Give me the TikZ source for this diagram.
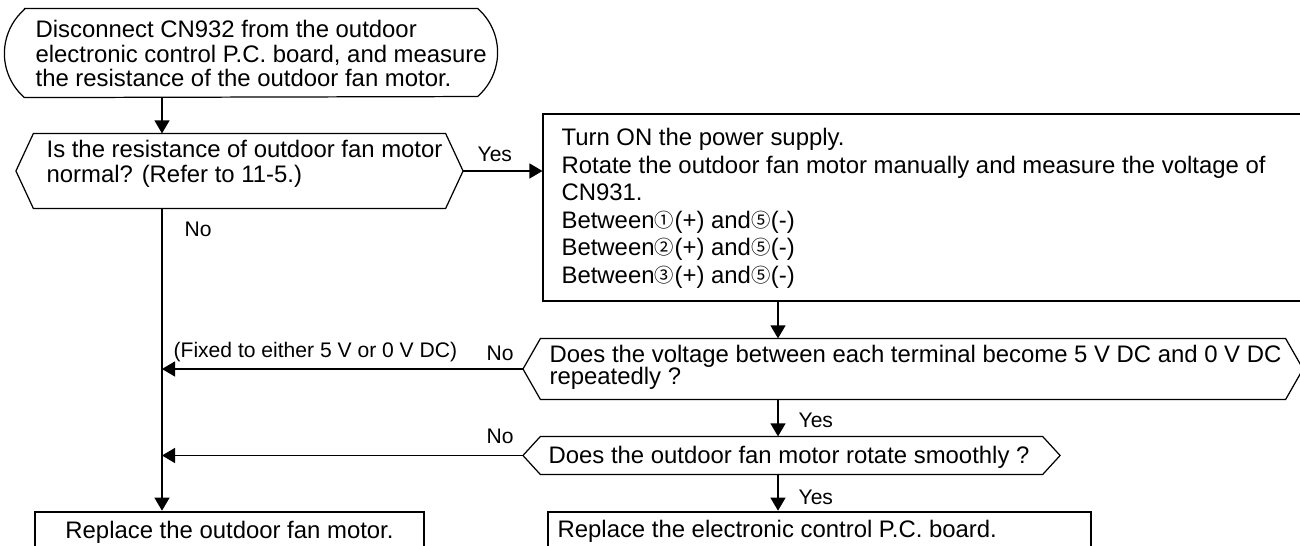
\documentclass[tikz,border=0pt]{standalone}
\usepackage{fontspec}
\setmainfont{Liberation Sans}
\newfontfamily\circfont{Noto Sans CJK JP}
\usetikzlibrary{arrows.meta, calc}

\newcommand{\cnum}[1]{\makebox[0.4cm]{\raisebox{0.8pt}{\circfont\fontsize{11pt}{11pt}\selectfont #1}}}
\newcommand{\tightlines}{\lineskiplimit=-10pt\relax}
% hexagon drawn round a decision node, with its two tips named
\newcommand{\decframe}[1]{%
  \coordinate (#1-l) at ([xshift=-0.35cm]#1.west);
  \coordinate (#1-r) at ([xshift=0.35cm]#1.east);
  \draw (#1.north west) -- (#1.north east) -- (#1-r) -- (#1.south east)
        -- (#1.south west) -- (#1-l) -- cycle;}

\begin{document}
\begin{tikzpicture}[x=0.02cm, y=-0.02cm, line width=0.7pt,
    every node/.style={font=\fontsize{13.6pt}{14pt}\selectfont},
    frame/.style={rectangle, draw, inner sep=0pt},
    dec/.style={rectangle, inner sep=0pt},
    txt/.style={anchor=north west, inner sep=0pt, align=left},
    body/.style={anchor=base west, inner sep=0pt},
    lbl/.style={anchor=base west, inner sep=0pt, font=\fontsize{12pt}{14pt}\selectfont},
    arr/.style={-{Triangle[length=0.26cm, width=0.3cm]}}
  ]
  \useasboundingbox (0,0) rectangle (1300,546);

  % Frames
  \node[dec, minimum width=9.04cm, minimum height=1.76cm] (start) at (251,53) {};
  \draw (start.north west) -- (start.north east)
        arc[start angle=48.9, end angle=-48.9, radius=1.17cm]
        -- (start.south west)
        arc[start angle=228.9, end angle=131.1, radius=1.17cm] -- cycle;
  \node[dec, minimum width=8.22cm, minimum height=1.48cm] (d1) at (239.5,171) {};
  \node[frame, minimum width=15.18cm, minimum height=3.74cm] (act) at (922.5,207.5) {};
  \node[dec, minimum width=14.88cm, minimum height=1.2cm] (d2) at (913,369) {};
  \node[dec, minimum width=10.02cm, minimum height=0.74cm] (d3) at (791.5,455.5) {};
  \node[frame, line width=1.5pt, minimum width=7.78cm,
        minimum height=1cm] (fanrep) at (229.5,537) {};
  \node[frame, line width=1.5pt, minimum width=10.86cm,
        minimum height=1cm] (pcbrep) at (819.5,537) {};
  \decframe{d1}
  \decframe{d2}
  \decframe{d3}

  % Texts
  \node[txt, font=\fontsize{13.6pt}{13.9pt}\selectfont] (start-t) at (35,20)
    {Disconnect CN932 from the outdoor\\electronic control P.C. board, and measure\\the resistance of the outdoor fan motor.};
  \node[txt, font=\fontsize{13.6pt}{14.2pt}\selectfont] (d1-t) at (46,140)
    {Is the resistance of outdoor fan motor\\normal? (Refer to 11-5.)};
  \node[txt, font=\fontsize{13.6pt}{15.65pt}\selectfont] (act-t) at (561,128)
    {Turn ON the power supply.\\
     Rotate the outdoor fan motor manually and measure the voltage of\\
     CN931.\\
     Between\cnum{①}(+) and\cnum{⑤}(-)\\
     Between\cnum{②}(+) and\cnum{⑤}(-)\\
     Between\cnum{③}(+) and\cnum{⑤}(-)};
  \node[txt, font=\fontsize{13.6pt}{12.4pt}\selectfont\tightlines]
    (d2-t) at (549,345)
    {Does the voltage between each terminal become 5 V DC and 0 V DC\\repeatedly ?};
  \node[body] (d3-t) at (548,463) {Does the outdoor fan motor rotate smoothly ?};
  \node[body, anchor=base] (fanrep-t) at (229.5,538) {Replace the outdoor fan motor.};
  \node[body] (pcbrep-t) at (557,537) {Replace the electronic control P.C. board.};

  % Labels
  \node[lbl] (yes1) at (477,162) {Yes};
  \node[lbl] (no1) at (184,237) {No};
  \node[lbl] (fixed) at (173,358) {(Fixed to either 5 V or 0 V DC)};
  \node[lbl] (no2) at (486,361) {No};
  \node[lbl] (no3) at (486,444) {No};
  \node[lbl] (yes2) at (798,428) {Yes};
  \node[lbl] (yes3) at (798,504) {Yes};

  % Connectors
  \coordinate (spine) at (162,0);
  \coordinate (spine2) at (778,0);
  \draw[arr] (start.south -| spine) -- (d1.north -| spine);
  \draw[arr] (d1-r) -- (d1-r -| act.west);
  \draw[arr] (d1.south -| spine) -- (fanrep.north -| spine);
  \draw[arr] (act.south -| spine2) -- (d2.north -| spine2);
  \draw[arr] (d2-l) -- (d2-l -| spine);
  \draw[arr] (d2.south -| spine2) -- (d3.north -| spine2);
  \draw[arr] (d3-l) -- (d3-l -| spine);
  \draw[arr] (d3.south -| spine2) -- (pcbrep.north -| spine2);
\end{tikzpicture}
\end{document}
